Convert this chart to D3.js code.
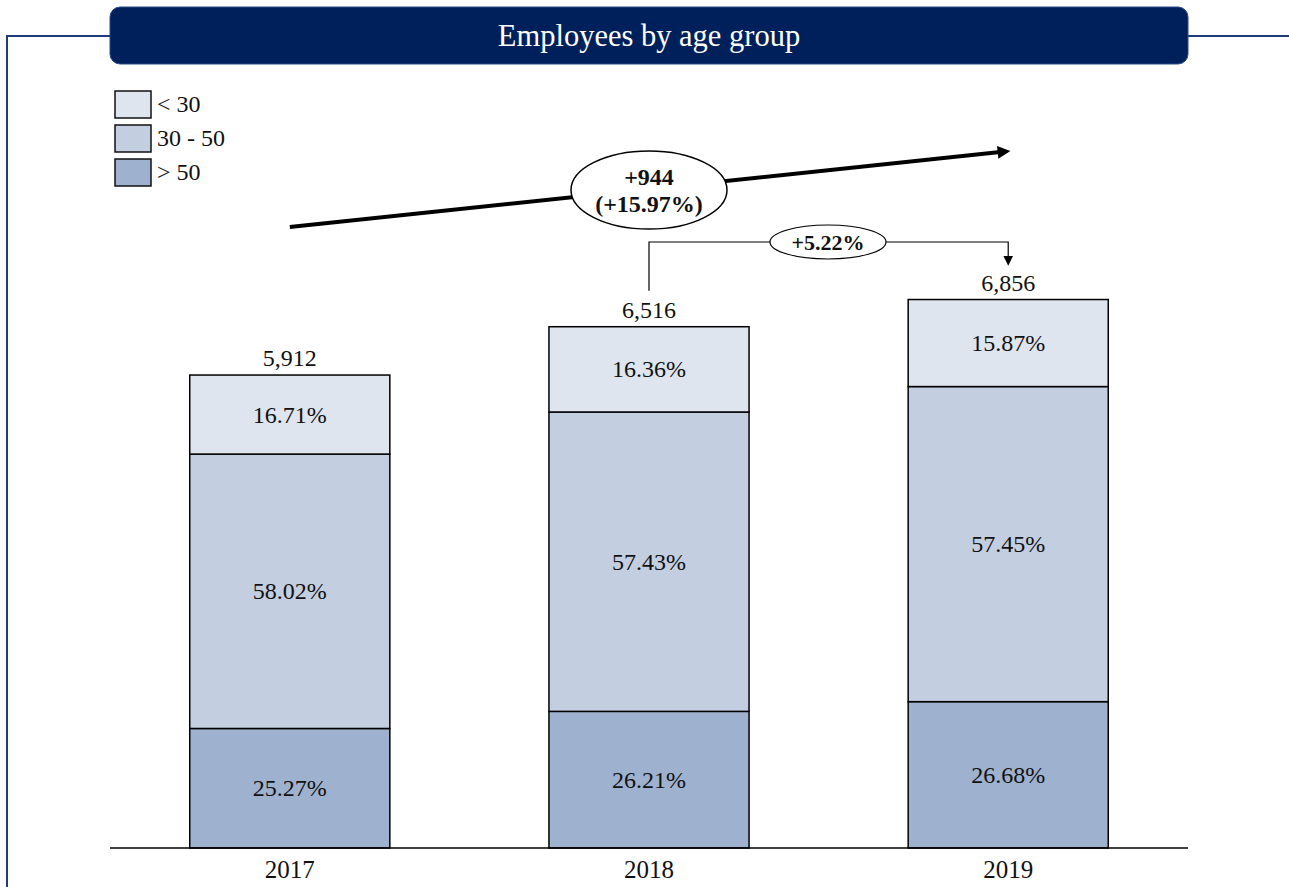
<!DOCTYPE html>
<html><head><meta charset="utf-8">
<script src="https://cdn.jsdelivr.net/npm/d3@7"></script>
<style>body{margin:0;background:#fff}svg{display:block}</style>
</head><body>
<svg id="c" width="1289" height="887"></svg>
<script>
const years = ["2017", "2018", "2019"];
const totals = [5912, 6516, 6856];
const groups = ["> 50", "30 - 50", "< 30"];
const pctOver50 = [25.27, 26.21, 26.68];
const pct30to50 = [58.02, 57.43, 57.45];
const pctUnder30 = [16.71, 16.36, 15.87];
const legendLabels = ["< 30", "30 - 50", "> 50"];
const totalChangeLabel = ["+944", "(+15.97%)"];
const lastChangeLabel = "+5.22%";

const colors = {"< 30": "#DFE5EF", "30 - 50": "#C3CEE0", "> 50": "#9EB1CF"};
const FONT = "'Liberation Serif', 'Times New Roman', serif";

const svg = d3.select("#c");

// frame
svg.append("path")
  .attr("d", "M1289,36 L1188,36 M110,36 L7,36 L7,887")
  .attr("fill", "none").attr("stroke", "#1F3C7A").attr("stroke-width", 2);

// title box
svg.append("rect").attr("x", 110).attr("y", 7).attr("width", 1078).attr("height", 57)
  .attr("rx", 10).attr("fill", "#00205B").attr("stroke", "#2A4A8A").attr("stroke-width", 1);
svg.append("text").attr("x", 649).attr("y", 46).attr("text-anchor", "middle")
  .attr("font-family", FONT).attr("font-size", 30.5).attr("fill", "#fff")
  .text("Employees by age group");

// scales
const x = d3.scaleBand().domain(years).range([110, 1188]).paddingInner(0.443).paddingOuter(0.222);
const y = d3.scaleLinear().domain([0, 10600]).range([848, 0]);

const rows = years.map((yr, i) => ({
  year: yr, total: totals[i],
  "> 50": pctOver50[i], "30 - 50": pct30to50[i], "< 30": pctUnder30[i]
}));
const stack = d3.stack().keys(groups)
  .value((d, k) => d[k] / 100 * d.total);
const series = stack(rows);

const g = svg.append("g");
series.forEach(s => {
  const key = s.key;
  g.selectAll(null).data(s).enter().append("rect")
    .attr("x", d => x(d.data.year))
    .attr("width", x.bandwidth())
    .attr("y", d => y(d[1]))
    .attr("height", d => y(d[0]) - y(d[1]))
    .attr("fill", colors[key]).attr("stroke", "#000").attr("stroke-width", 1.5);
  g.selectAll(null).data(s).enter().append("text")
    .attr("x", d => x(d.data.year) + x.bandwidth() / 2)
    .attr("y", d => (y(d[0]) + y(d[1])) / 2 + 8)
    .attr("text-anchor", "middle").attr("font-family", FONT).attr("font-size", 24)
    .attr("fill", "#111")
    .text(d => d.data[key].toFixed(2) + "%");
});

// totals
g.selectAll(null).data(rows).enter().append("text")
  .attr("x", d => x(d.year) + x.bandwidth() / 2)
  .attr("y", d => y(d.total) - 9)
  .attr("text-anchor", "middle").attr("font-family", FONT).attr("font-size", 24)
  .attr("fill", "#111")
  .text(d => d3.format(",")(d.total));

// axis
const axis = d3.axisBottom(x).tickSize(0).tickPadding(12);
const ag = svg.append("g").attr("transform", "translate(0,848)").call(axis);
ag.select(".domain").attr("d", "M110,0H1188").attr("stroke", "#000").attr("stroke-width", 1.5);
ag.selectAll("text").attr("font-family", FONT).attr("font-size", 25).attr("fill", "#111");

// legend
const lg = svg.append("g");
legendLabels.forEach((l, i) => {
  const yy = 91 + i * 34;
  lg.append("rect").attr("x", 115).attr("y", yy).attr("width", 36).attr("height", 27)
    .attr("fill", colors[l]).attr("stroke", "#111").attr("stroke-width", 1.5);
  lg.append("text").attr("x", 157).attr("y", yy + 21).attr("font-family", FONT)
    .attr("font-size", 24).attr("fill", "#111").text(l);
});

// markers
const defs = svg.append("defs");
defs.append("marker").attr("id", "bigArrow").attr("viewBox", "0 0 10 10")
  .attr("refX", 2).attr("refY", 5).attr("markerWidth", 4).attr("markerHeight", 3.2)
  .attr("markerUnits", "strokeWidth").attr("orient", "auto")
  .append("path").attr("d", "M0,0 L10,5 L0,10 z").attr("fill", "#000");
defs.append("marker").attr("id", "smallArrow").attr("viewBox", "0 0 10 10")
  .attr("refX", 2).attr("refY", 5).attr("markerWidth", 8).attr("markerHeight", 8)
  .attr("markerUnits", "strokeWidth").attr("orient", "auto")
  .append("path").attr("d", "M0,0 L10,5 L0,10 z").attr("fill", "#000");

// big growth arrow
const cx0 = x(years[0]) + x.bandwidth() / 2;
const cx1 = x(years[1]) + x.bandwidth() / 2;
const cx2 = x(years[2]) + x.bandwidth() / 2;
svg.append("line").attr("x1", cx0).attr("y1", 227).attr("x2", cx2 - 8).attr("y2", 152)
  .attr("stroke", "#000").attr("stroke-width", 4).attr("marker-end", "url(#bigArrow)");
svg.append("ellipse").attr("cx", cx1).attr("cy", 190).attr("rx", 78).attr("ry", 39)
  .attr("fill", "#fff").attr("stroke", "#000").attr("stroke-width", 1.5);
svg.append("text").attr("x", cx1).attr("y", 185).attr("text-anchor", "middle")
  .attr("font-family", FONT).attr("font-weight", "bold").attr("font-size", 24).attr("fill", "#111")
  .text(totalChangeLabel[0]);
svg.append("text").attr("x", cx1).attr("y", 212).attr("text-anchor", "middle")
  .attr("font-family", FONT).attr("font-weight", "bold").attr("font-size", 24).attr("fill", "#111")
  .text(totalChangeLabel[1]);

// bracket 2018 -> 2019
svg.append("path")
  .attr("d", `M${cx1},${y(totals[1]) - 36} L${cx1},242 L${cx2},242 L${cx2},258`)
  .attr("fill", "none").attr("stroke", "#000").attr("stroke-width", 1.2)
  .attr("marker-end", "url(#smallArrow)");
svg.append("ellipse").attr("cx", 828).attr("cy", 242).attr("rx", 58).attr("ry", 17)
  .attr("fill", "#fff").attr("stroke", "#000").attr("stroke-width", 1.2);
svg.append("text").attr("x", 828).attr("y", 250).attr("text-anchor", "middle")
  .attr("font-family", FONT).attr("font-weight", "bold").attr("font-size", 22).attr("fill", "#111")
  .text(lastChangeLabel);
</script>
</body></html>
